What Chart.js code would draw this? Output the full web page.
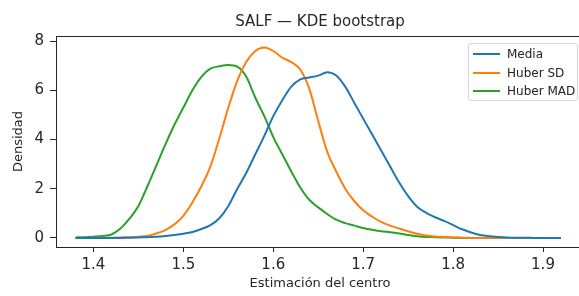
<!DOCTYPE html>
<html>
<head>
<meta charset="utf-8">
<script src="https://cdn.jsdelivr.net/npm/chart.js@4"></script>
<style>
  html, body { margin: 0; padding: 0; background: #fff; overflow: hidden; }
  #wrap { position: relative; width: 584px; height: 296px; }
  #legend {
    position: absolute; left: 468px; top: 43px; width: 108px; height: 56px;
    border: 1px solid #d6d6d6; border-radius: 3px; background: rgba(255,255,255,0.8);
    font-family: "DejaVu Sans", sans-serif; font-size: 12px; color: #222;
  }
  .item { position: absolute; left: 0; height: 18px; line-height: 18px; white-space: nowrap; }
  .item i { position: absolute; left: 4px; top: 8px; width: 27px; height: 2px; }
  .item span { position: absolute; left: 38px; top: 0; }
</style>
</head>
<body>
<div id="wrap">
  <canvas id="kde" width="584" height="296"></canvas>
  <div id="legend"></div>
</div>
<script>
// x grid of the KDE curves
const xs = [1.38, 1.39, 1.40, 1.41, 1.42, 1.43, 1.44, 1.45, 1.46, 1.47,
            1.48, 1.49, 1.50, 1.51, 1.52, 1.53, 1.54, 1.55, 1.56, 1.57,
            1.58, 1.59, 1.60, 1.61, 1.62, 1.63, 1.64, 1.65, 1.66, 1.67,
            1.68, 1.69, 1.70, 1.71, 1.72, 1.73, 1.74, 1.75, 1.76, 1.77,
            1.78, 1.79, 1.80, 1.81, 1.82, 1.83, 1.84, 1.85, 1.86, 1.87,
            1.88, 1.89, 1.90, 1.91, 1.92];

const media = [0, 0, 0, 0, 0, 0, 0.01, 0.02, 0.03, 0.05,
               0.08, 0.12, 0.17, 0.24, 0.36, 0.52, 0.8, 1.3, 2.0, 2.65,
               3.4, 4.15, 4.95, 5.6, 6.15, 6.45, 6.52, 6.6, 6.74, 6.6,
               6.15, 5.5, 4.85, 4.2, 3.55, 2.9, 2.25, 1.7, 1.27, 1.02,
               0.84, 0.69, 0.52, 0.35, 0.22, 0.12, 0.07, 0.04, 0.02, 0.01,
               0.01, 0, 0, 0, 0];

const huberSD = [0, 0, 0, 0.01, 0.01, 0.02, 0.03, 0.05, 0.08, 0.18,
                 0.32, 0.55, 0.9, 1.44, 2.1, 2.9, 4.05, 5.3, 6.4, 7.16,
                 7.6, 7.74, 7.6, 7.33, 7.15, 6.85, 6.07, 4.75, 3.5, 2.7,
                 2.0, 1.5, 1.12, 0.86, 0.65, 0.5, 0.38, 0.27, 0.17, 0.1,
                 0.06, 0.04, 0.02, 0.01, 0, 0, 0, 0, 0, 0,
                 0, 0, 0, 0, 0];

const huberMAD = [0.02, 0.03, 0.05, 0.08, 0.14, 0.38, 0.78, 1.3, 2.1, 2.95,
                  3.8, 4.6, 5.3, 6.0, 6.55, 6.88, 6.98, 7.03, 6.96, 6.55,
                  5.7, 4.95, 4.1, 3.4, 2.7, 2.05, 1.55, 1.24, 0.97, 0.74,
                  0.6, 0.5, 0.4, 0.33, 0.27, 0.23, 0.18, 0.12, 0.07, 0.04,
                  0.03, 0.02, 0.01, 0, 0, 0, 0, 0, 0, 0,
                  0, 0, 0, 0, 0];

const seriesNames = ["Media", "Huber SD", "Huber MAD"];
const seriesColors = ["#1f77b4", "#ff7f0e", "#2ca02c"];
const xTicks = [1.4, 1.5, 1.6, 1.7, 1.8, 1.9];
const yTicks = [0, 2, 4, 6, 8];

const FONT = "'DejaVu Sans', sans-serif";
const INK = "#262626";

const toPoints = (vals) => xs.map((x, i) => ({ x, y: vals[i] }));

const datasets = [media, huberSD, huberMAD].map((vals, i) => ({
    label: seriesNames[i],
    data: toPoints(vals),
    borderColor: seriesColors[i],
    backgroundColor: seriesColors[i],
    borderWidth: 2,
    pointRadius: 0,
    cubicInterpolationMode: "monotone",
    fill: false,
}));

// matplotlib-style box around the axes
const frame = {
    id: "frame",
    afterDraw(chart) {
        const { ctx, chartArea: a } = chart;
        ctx.save();
        ctx.strokeStyle = INK;
        ctx.lineWidth = 1;
        ctx.strokeRect(a.left + 0.5, a.top + 0.5, a.right - a.left, a.bottom - a.top);
        ctx.restore();
    },
};

new Chart(document.getElementById("kde"), {
    type: "line",
    data: { datasets },
    options: {
        responsive: false,
        animation: false,
        layout: { padding: 0 },
        scales: {
            x: {
                type: "linear",
                min: 1.3583,
                max: 1.9456,
                afterBuildTicks: (s) => { s.ticks = xTicks.map(v => ({ value: v })); },
                afterFit: (s) => { s.height = 49; },
                ticks: {
                    color: INK, font: { family: FONT, size: 15 }, padding: 4,
                    maxRotation: 0, autoSkip: false,
                    callback: (v) => v.toFixed(1),
                },
                grid: { drawOnChartArea: false, drawTicks: true, tickLength: 5, color: INK },
                border: { display: true, color: INK },
                title: {
                    display: true, text: "Estimación del centro", color: INK,
                    font: { family: FONT, size: 13 }, padding: { top: 0, bottom: 5 },
                },
            },
            y: {
                min: -0.37,
                max: 8.21,
                afterBuildTicks: (s) => { s.ticks = yTicks.map(v => ({ value: v })); },
                afterFit: (s) => { s.width = 56; },
                ticks: { color: INK, font: { family: FONT, size: 15 }, padding: 6 },
                grid: { drawOnChartArea: false, drawTicks: true, tickLength: 6, color: INK },
                border: { display: true, color: INK },
                title: {
                    display: true, text: "Densidad", color: INK,
                    font: { family: FONT, size: 13 }, padding: { top: 11, bottom: 0 },
                },
            },
        },
        plugins: {
            legend: { display: false },
            tooltip: { enabled: false },
            title: {
                display: true, text: "SALF — KDE bootstrap", color: INK,
                fullSize: false,
                font: { family: FONT, size: 15, weight: "normal" },
                padding: { top: 13, bottom: 5 },
            },
        },
    },
    plugins: [frame],
});

// legend inside the axes, upper right
const legend = document.getElementById("legend");
seriesNames.forEach((name, i) => {
    const row = document.createElement("div");
    row.className = "item";
    row.style.top = (1 + i * 18.5) + "px";
    row.innerHTML = `<i style="background:${seriesColors[i]}"></i><span>${name}</span>`;
    legend.appendChild(row);
});
</script>
</body>
</html>
